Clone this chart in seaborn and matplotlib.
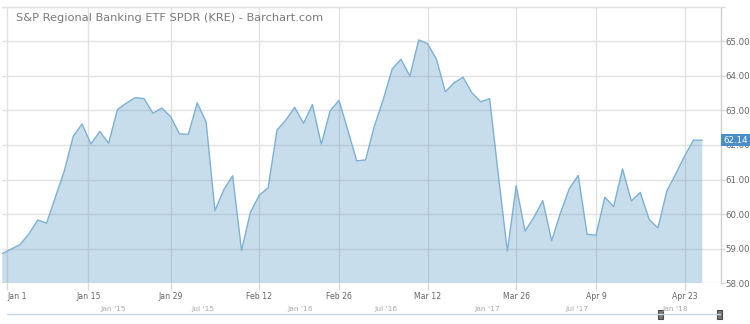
import numpy as np
import pandas as pd
import matplotlib
matplotlib.use("Agg")
import matplotlib.pyplot as plt
import matplotlib.transforms as mtransforms
from matplotlib.lines import Line2D
from matplotlib.patches import Rectangle
import seaborn as sns

# ---------------- data ----------------
title = "S&P Regional Banking ETF SPDR (KRE) - Barchart.com"
prices = [
    58.86, 58.99, 59.12, 59.43, 59.83, 59.74, 60.50, 61.25, 62.25, 62.61,
    62.03, 62.39, 62.05, 63.03, 63.21, 63.37, 63.34, 62.92, 63.07, 62.82,
    62.32, 62.31, 63.22, 62.67, 60.10, 60.71, 61.11, 58.95, 60.05, 60.55,
    60.76, 62.43, 62.72, 63.09, 62.63, 63.17, 62.02, 62.99, 63.29, 62.43,
    61.54, 61.57, 62.55, 63.32, 64.20, 64.48, 63.99, 65.04, 64.93, 64.48,
    63.54, 63.80, 63.96, 63.51, 63.25, 63.34, 61.10, 58.93, 60.82, 59.51,
    59.91, 60.39, 59.23, 60.04, 60.74, 61.12, 59.42, 59.39, 60.49, 60.22,
    61.31, 60.38, 60.63, 59.85, 59.60, 60.67, 61.16, 61.68, 62.14, 62.14,
]
date_labels = ["Jan 1", "Jan 15", "Jan 29", "Feb 12", "Feb 26",
               "Mar 12", "Mar 26", "Apr 9", "Apr 23"]
date_label_days = [0.56, 9.7, 19, 29, 38, 48, 58, 67, 77]
price_ticks = [58, 59, 60, 61, 62, 63, 64, 65, 66]
last_price = 62.14
nav_labels = ["Jan '15", "Jul '15", "Jan '16", "Jul '16", "Jan '17", "Jul '17", "Jan '18"]
nav_label_px = [113, 203, 300, 386, 487, 577, 675]

# ---------------- style ----------------
sns.set_theme(style="white")
plt.rcParams["font.family"] = ["DejaVu Sans"]

W, H = 750, 324
fig = plt.figure(figsize=(W / 100, H / 100), dpi=100)
fig.patch.set_facecolor("white")

left_px, right_px, top_px, bot_px = 2.3, 720.7, 6.7, 283.3
ax = fig.add_axes([left_px / W, 1 - bot_px / H, (right_px - left_px) / W, (bot_px - top_px) / H])

df = pd.DataFrame({"day": np.arange(len(prices)), "price": prices})
ax.fill_between(df["day"], 0, df["price"], color="#4a8fbf", alpha=0.30, lw=0, zorder=2)
sns.lineplot(data=df, x="day", y="price", ax=ax, color="#7db1d3", lw=1.0, zorder=3)

ax.set_xlim(0, 81.08)
ax.set_ylim(price_ticks[0], price_ticks[-1])
ax.set_axisbelow(True)
ax.grid(True, color="#e2e2e2", lw=1.0, zorder=0)

ax.yaxis.tick_right()
ax.set_yticks(price_ticks)
ax.set_yticklabels([f"{v:.2f}" if v < price_ticks[-1] else "" for v in price_ticks])
ax.set_xticks(date_label_days)
ax.set_xticklabels(date_labels)
ax.tick_params(axis="y", labelsize=6.2, labelcolor="#666666", color="#d8d8d8",
               length=3, width=1, pad=0.5, right=True, left=False)
ax.tick_params(axis="x", labelsize=5.6, labelcolor="#666666", color="#d8d8d8",
               length=5, width=1, pad=1.5, bottom=True)
ax.get_xticklabels()[0].set_horizontalalignment("left")
ax.set_xlabel("")
ax.set_ylabel("")

for side in ["left", "bottom"]:
    ax.spines[side].set_visible(False)
ax.spines["top"].set_color("#e2e2e2")
ax.spines["right"].set_color("#d0d0d0")
ax.spines["top"].set_linewidth(1)
ax.spines["right"].set_linewidth(1)

# last price flag (sits over the 62.00 label, as in the reference)
trans = mtransforms.blended_transform_factory(ax.transAxes, ax.transData)
trans = trans + mtransforms.ScaledTranslation(2.5 / 100, 0, fig.dpi_scale_trans)
ax.text(1.0, last_price, f"{last_price:.2f}", transform=trans, ha="left", va="center",
        fontsize=6.2, color="white", clip_on=False, zorder=10,
        bbox=dict(boxstyle="square,pad=0.2", fc="#4a8ec6", ec="none"))

# title
fig.text(16 / W, 1 - 18 / H, title, fontsize=8.2, color="#7a7a7a", ha="left", va="center")

# navigator strip
fig.add_artist(Line2D([6.7 / W, 720 / W], [1 - 314.3 / H, 1 - 314.3 / H],
                      color="#c9d6e3", lw=1))
for lab, px in zip(nav_labels, nav_label_px):
    fig.text(px / W, 1 - 309 / H, lab, fontsize=5.4, color="#aaaaaa", ha="center", va="center")
for hx in (658.3, 717.3):
    fig.add_artist(Rectangle((hx / W, 1 - 319 / H), 4.4 / W, 9 / H,
                             transform=fig.transFigure, fc="#777777", ec="#4a4a4a", lw=0.8))

fig.savefig("out.png", dpi=100, facecolor="white")
